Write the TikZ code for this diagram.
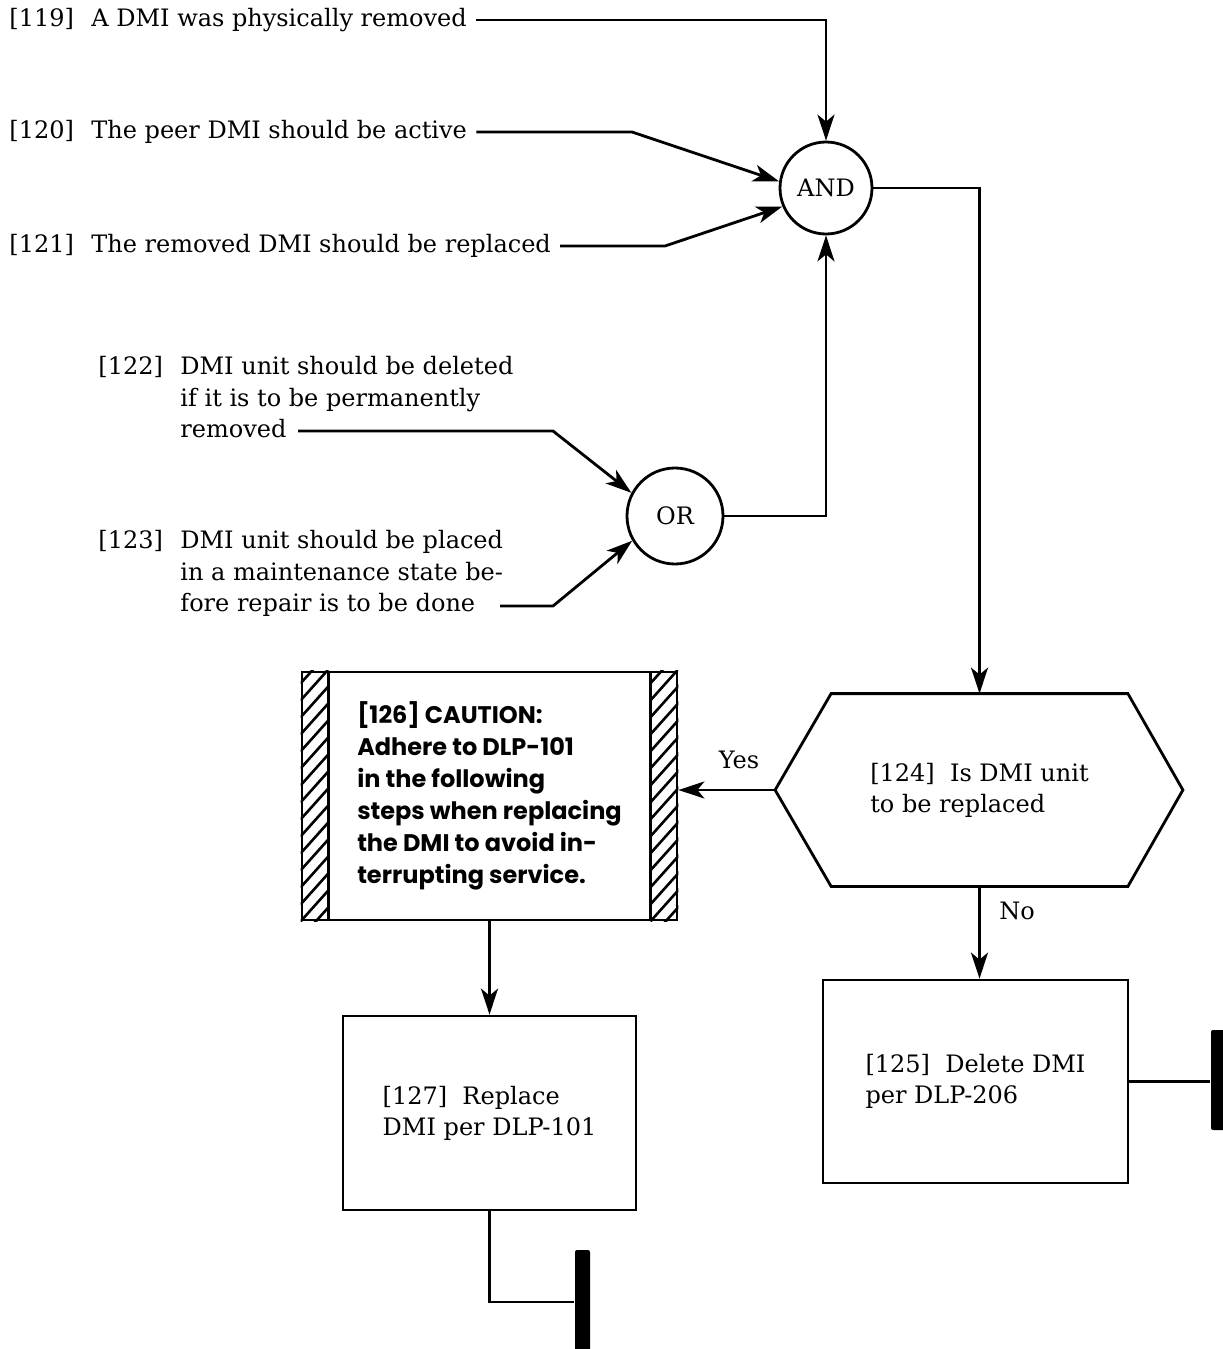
\documentclass[tikz,border=0pt]{standalone}
\usepackage{fontspec}
\setmainfont{DejaVu Serif}
\newfontfamily\cautionfont{Poppins}
\usetikzlibrary{arrows.meta,calc}

% fixed-width slot for the step numbers
\newcommand\stepno[1]{\makebox[41pt][l]{#1}}

\begin{document}
\begin{tikzpicture}[x=0.5pt,y=-0.5pt, line width=1.4pt,
  arr/.style={-{Stealth[length=13pt,width=8.5pt,inset=3.5pt]}},
  txt/.style={font=\fontsize{12}{15.75}\selectfont, inner sep=4pt, align=left},
  gate/.style={circle, draw, line width=1.4pt, inner sep=0pt, font=\fontsize{12}{14}\selectfont},
  stepbox/.style={draw, align=left, font=\fontsize{12}{15.5}\selectfont},
  endbar/.style={fill=black, draw=none, inner sep=0pt, rounded corners=1pt},
  hatch/.style={line width=1.3pt}]
\useasboundingbox (0,0) rectangle (1222,1349);

% ---- conditions ----
\node[txt, anchor=west] (t119) at (0,20)  {\stepno{[119]}A DMI was physically removed};
\node[txt, anchor=west] (t120) at (0,132) {\stepno{[120]}The peer DMI should be active};
\node[txt, anchor=west] (t121) at (0,246) {\stepno{[121]}The removed DMI should be replaced};
\node[txt, anchor=west] (t122) at (89,400) {\begin{tabular}{@{}l@{}}
  \stepno{[122]}DMI unit should be deleted\\
  \stepno{}if it is to be permanently\\
  \stepno{}removed\end{tabular}};
\node[txt, anchor=west] (t123) at (89,574) {\begin{tabular}{@{}l@{}}
  \stepno{[123]}DMI unit should be placed\\
  \stepno{}in a maintenance state be-\\
  \stepno{}fore repair is to be done\end{tabular}};
\coordinate (s122) at (298,431);
\coordinate (s123) at (500,606);

% ---- gates ----
\node[gate, minimum size=46pt] (and) at (826,188) {AND};
\node[gate, minimum size=48pt] (or)  at (675,516) {OR};

\draw[arr] (t119.east) -| (and.north);
\draw[arr] (t120.east) -- (632,132) -- (and.172);
\draw[arr] (t121.east) -- (665,246) -- (and.203);
\draw[arr] (s122) -- (553,431) -- (or.152);
\draw[arr] (s123) -- (553,606) -- (or.210);
\draw[arr] (or.east) -| (and.south);

% ---- decision ----
\node[minimum width=147pt, minimum height=95pt, align=left,
      font=\fontsize{12}{15.5}\selectfont] (hex) at (979.5,790)
      {[124]\ \ Is DMI unit\\to be replaced};
\coordinate (hexL) at ($(hex.west)+(-56,0)$);
\coordinate (hexR) at ($(hex.east)+(55,0)$);
\draw (hex.north west) -- (hex.north east) -- (hexR) -- (hex.south east)
      -- (hex.south west) -- (hexL) -- cycle;
\draw[arr] (and.east) -| (hex.north);

% ---- caution box ----
\node[draw, minimum width=187.5pt, minimum height=124pt, align=left,
      font=\cautionfont\bfseries\fontsize{12}{16}\selectfont] (caution) at (489.5,796)
      {[126] CAUTION:\\Adhere to DLP-101\\in the following\\steps when replacing\\the DMI to avoid in-\\terrupting service.};
\foreach \side/\off in {west/0, east/-28}{
  \begin{scope}
    \clip ($(caution.north \side)+(\off,0)$) rectangle ($(caution.south \side)+(\off+28,0)$);
    \foreach \i in {-2,...,16}
      \draw[hatch] ($(caution.south \side)+(\off,-\i*17)$) -- ++(34,-38);
  \end{scope}
}
\draw ($(caution.north west)+(28,0)$) -- ($(caution.south west)+(28,0)$);
\draw ($(caution.north east)+(-28,0)$) -- ($(caution.south east)+(-28,0)$);

\draw[arr] (hexL) -- (hexL -| caution.east);
\node[font=\fontsize{12}{14}\selectfont] (yes) at (739,760) {Yes};

% ---- actions ----
\node[stepbox, minimum width=146.5pt, minimum height=97pt] (box127) at (489.5,1113)
      {[127]\ \ Replace\\DMI per DLP-101};
\node[stepbox, minimum width=152.5pt, minimum height=101.5pt] (box125) at (975.5,1081.5)
      {[125]\ \ Delete DMI\\per DLP-206};

\draw[arr] (caution.south) -- (box127.north);
\draw[arr] (hex.south) -- (hex.south |- box125.north);
\node[font=\fontsize{12}{14}\selectfont] (no) at (1017,911) {No};

% ---- terminators ----
\node[endbar, minimum width=7pt, minimum height=50pt] (end125) at (1218,1080) {};
\node[endbar, minimum width=7.5pt, minimum height=52pt] (end127) at (582.5,1302) {};
\draw (box125.east) -- (box125.east -| end125.west);
\draw (box127.south) |- (end127.west);
\end{tikzpicture}
\end{document}
